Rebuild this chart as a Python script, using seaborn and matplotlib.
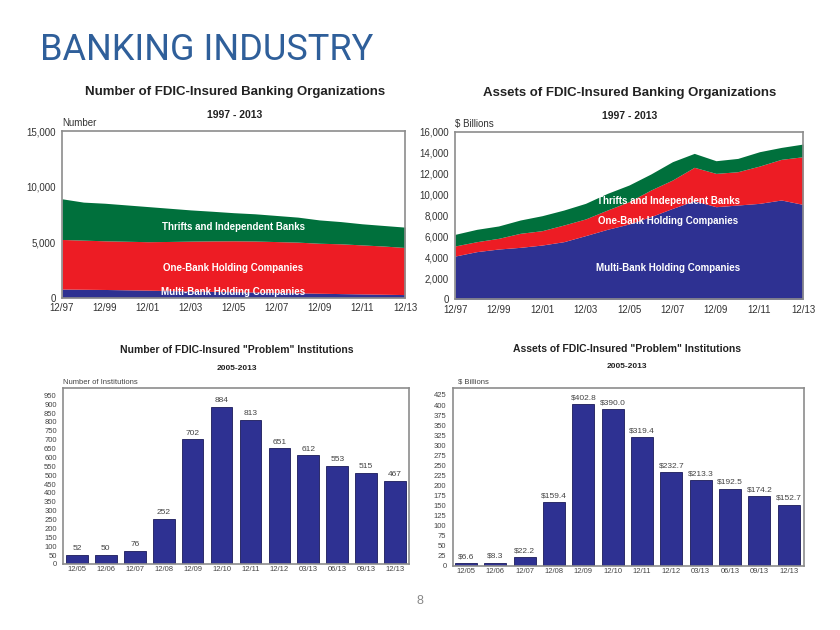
import numpy as np
import matplotlib
matplotlib.use("Agg")
import matplotlib.pyplot as plt
import seaborn as sns
import pandas as pd

# area charts, 1997-2013 (year-end)
years = list(range(1997, 2014))
year_ticks = list(range(1997, 2014, 2))
year_labels = ["12/97", "12/99", "12/01", "12/03", "12/05", "12/07", "12/09", "12/11", "12/13"]

num_multi = [780, 760, 740, 710, 680, 640, 600, 570, 540, 510, 480, 440, 400, 370, 340, 310, 280]
num_one = [4460, 4420, 4380, 4370, 4360, 4420, 4490, 4540, 4580, 4590, 4570, 4560, 4500, 4480, 4410, 4340, 4240]
num_thrift = [3660, 3420, 3380, 3270, 3160, 2990, 2810, 2670, 2530, 2450, 2350, 2250, 2100, 2000, 1900, 1850, 1830]

ast_multi = [4130, 4550, 4800, 4960, 5180, 5500, 6080, 6680, 7190, 7890, 8680, 9410, 8840, 9000, 9160, 9480, 9060]
ast_one = [960, 950, 1020, 1340, 1370, 1590, 1590, 1840, 2130, 2540, 2710, 3190, 3180, 3180, 3560, 3880, 4550]
ast_thrift = [1110, 1180, 1180, 1270, 1430, 1430, 1490, 1590, 1590, 1530, 1750, 1330, 1210, 1270, 1370, 1140, 1210]

series_names = ["Multi-Bank Holding Companies", "One-Bank Holding Companies", "Thrifts and Independent Banks"]

# bar charts
periods = ["12/05", "12/06", "12/07", "12/08", "12/09", "12/10", "12/11", "12/12", "03/13", "06/13", "09/13", "12/13"]
problem_count = [52, 50, 76, 252, 702, 884, 813, 651, 612, 553, 515, 467]
problem_assets = [6.6, 8.3, 22.2, 159.4, 402.8, 390.0, 319.4, 232.7, 213.3, 192.5, 174.2, 152.7]

BLUE = "#2e3192"
RED = "#ed1c24"
GREEN = "#00703c"
FRAME = "#8c8c8c"
TXT = "#333333"

sns.set_style("white")
plt.rcParams["font.family"] = ["Liberation Sans", "DejaVu Sans"]

fig = plt.figure(figsize=(8.4, 6.3), dpi=100)


def W(px):
    return px / 840


def H(px):
    return 1 - px / 630


def style_frame(ax):
    for s in ax.spines.values():
        s.set_visible(True)
        s.set_color(FRAME)
        s.set_linewidth(1.2)


def area_panel(rect, multi, one, thrift, ymax, yticks, labels_y, label_x):
    ax = fig.add_axes(rect)
    ax.stackplot(years, multi, one, thrift, colors=[BLUE, RED, GREEN], linewidth=0)
    ax.set_xlim(1997, 2013)
    ax.set_ylim(0, ymax)
    ax.set_xticks(year_ticks)
    ax.set_xticklabels(year_labels)
    ax.set_yticks(yticks)
    ax.set_yticklabels([f"{v:,}" for v in yticks])
    ax.tick_params(axis="both", labelsize=7, colors=TXT, length=3, width=0.8, direction="out", pad=1.5)
    ax.tick_params(axis="x", length=0, pad=4)
    style_frame(ax)
    for name, y in zip(series_names, labels_y):
        ax.text(label_x, y, name, color="white", fontsize=7, fontweight="bold", ha="center", va="center")
    return ax


# top-left: number of organizations
area_panel([W(62), H(297.7), W(343), 166.7 / 630], num_multi, num_one, num_thrift,
           15000, [0, 5000, 10000, 15000], [510, 2670, 6360], 2005)
fig.text(W(235), H(92), "Number of FDIC-Insured Banking Organizations", ha="center", va="center",
         fontsize=9.5, fontweight="bold", color="#222222")
fig.text(W(235), H(115), "1997 - 2013", ha="center", va="center", fontsize=7.5, fontweight="bold", color="#222222")
fig.text(W(62), H(123), "Number", ha="left", va="center", fontsize=7, color=TXT)

# top-right: assets
area_panel([W(455), H(299.3), W(348), 167.6 / 630], ast_multi, ast_one, ast_thrift,
           16000, list(range(0, 16001, 2000)), [2990, 7470, 9380], 2006.8)
fig.text(W(630), H(93), "Assets of FDIC-Insured Banking Organizations", ha="center", va="center",
         fontsize=9.5, fontweight="bold", color="#222222")
fig.text(W(630), H(116), "1997 - 2013", ha="center", va="center", fontsize=7.5, fontweight="bold", color="#222222")
fig.text(W(455), H(124), "$ Billions", ha="left", va="center", fontsize=7, color=TXT)


def bar_panel(rect, values, ymax, step, xlim, fmt):
    ax = fig.add_axes(rect)
    df = pd.DataFrame({"period": periods, "value": values})
    sns.barplot(data=df, x="period", y="value", color=BLUE, saturation=1, width=0.75,
                edgecolor="#1a1a5a", linewidth=0.6, ax=ax)
    ax.set_xlim(*xlim)
    ax.set_ylim(0, ymax)
    ax.set_yticks(np.arange(0, ymax, step))
    ax.set_xlabel("")
    ax.set_ylabel("")
    ax.tick_params(axis="both", labelsize=5.5, colors="#444444", pad=1.5)
    ax.tick_params(axis="y", length=3, width=0.7, direction="out")
    ax.tick_params(axis="x", length=0)
    style_frame(ax)
    ax.bar_label(ax.containers[0], labels=[fmt(v) for v in values], fontsize=6, color="#444444", padding=2)
    return ax


# bottom-left: number of problem institutions
bar_panel([W(63), H(564), W(346), 176 / 630], problem_count, 991, 50, (-0.48, 11.48), lambda v: f"{v}")
fig.text(W(237), H(350), 'Number of FDIC-Insured "Problem" Institutions', ha="center", va="center",
         fontsize=7.5, fontweight="bold", color="#222222")
fig.text(W(237), H(368), "2005-2013", ha="center", va="center", fontsize=6, fontweight="bold", color="#222222")
fig.text(W(63), H(383), "Number of Institutions", ha="left", va="center", fontsize=5.5, color="#444444")

# bottom-right: assets of problem institutions
bar_panel([W(452.7), H(566), W(351.3), 178.3 / 630], problem_assets, 443, 25, (-0.45, 11.52),
          lambda v: f"${v:.1f}")
fig.text(W(627), H(349), 'Assets of FDIC-Insured "Problem" Institutions', ha="center", va="center",
         fontsize=7.5, fontweight="bold", color="#222222")
fig.text(W(627), H(367), "2005-2013", ha="center", va="center", fontsize=6, fontweight="bold", color="#222222")
fig.text(W(458), H(382), "$ Billions", ha="left", va="center", fontsize=5.5, color="#444444")

# page title and number
fig.text(W(40), H(60), "BANKING INDUSTRY", ha="left", va="baseline", fontsize=26,
         color="#2f5f9a", family=["Roboto", "DejaVu Sans"], fontweight="normal")
fig.text(W(420), H(601), "8", ha="center", va="center", fontsize=9, color="#888888")

fig.savefig("out.png", dpi=100)
